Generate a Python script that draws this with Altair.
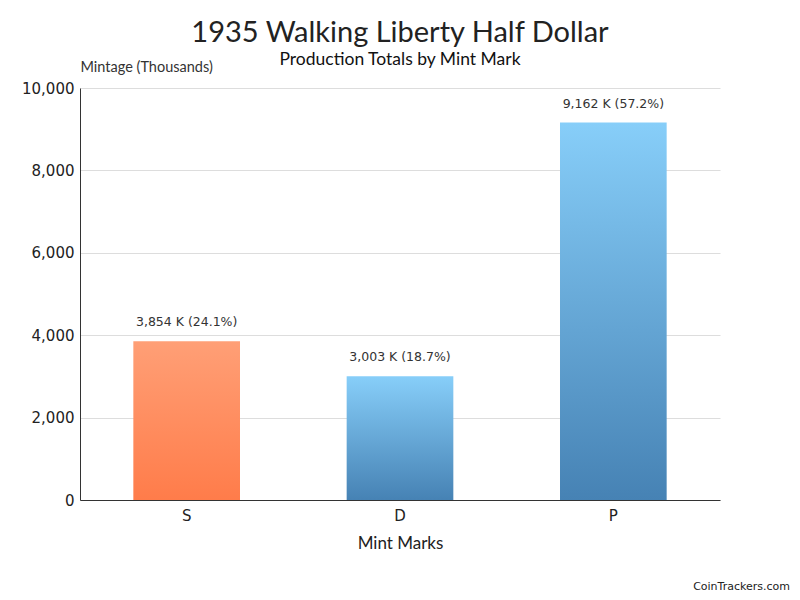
import altair as alt
import pandas as pd

mints = ["S", "D", "P"]
mintage = [3854, 3003, 9162]
labels = ["3,854 K (24.1%)", "3,003 K (18.7%)", "9,162 K (57.2%)"]
groups = ["proof", "regular", "regular"]

df = pd.DataFrame({"mint": mints, "mintage": mintage, "label": labels, "group": groups})

orange = alt.Gradient(
    gradient="linear",
    stops=[alt.GradientStop(color="#FF9F76", offset=0), alt.GradientStop(color="#FF7C4A", offset=1)],
    x1=0, x2=0, y1=0, y2=1,
)
blue = alt.Gradient(
    gradient="linear",
    stops=[alt.GradientStop(color="#87CEF9", offset=0), alt.GradientStop(color="#4682B4", offset=1)],
    x1=0, x2=0, y1=0, y2=1,
)

x = alt.X(
    "mint:N",
    sort=mints,
    title="Mint Marks",
    scale=alt.Scale(paddingInner=0.5, paddingOuter=0.25),
    axis=alt.Axis(
        labelAngle=0, labelFont="DejaVu Sans", labelFontSize=15, labelColor="#222",
        labelPadding=8, ticks=False, domainColor="#333", titleFont="Lato",
        titleFontSize=17, titleFontWeight="normal", titleColor="#222", titlePadding=12,
    ),
)
y = alt.Y(
    "mintage:Q",
    title="Mintage (Thousands)",
    scale=alt.Scale(domain=[0, 10000]),
    axis=alt.Axis(
        values=[0, 2000, 4000, 6000, 8000, 10000], format=",d", labelFont="DejaVu Sans",
        labelFontSize=15, labelColor="#222", labelPadding=6, ticks=False, domainColor="#333",
        gridColor="#dddddd", titleAngle=0, titleAlign="left", titleBaseline="bottom",
        titleX=0, titleY=-14, titleFont="Lato", titleFontSize=14.5, titleFontWeight="normal",
        titleColor="#333",
    ),
)

base = alt.Chart(df)
bars_s = base.transform_filter(alt.datum.group == "proof").mark_bar(color=orange).encode(x=x, y=y)
bars_r = base.transform_filter(alt.datum.group == "regular").mark_bar(color=blue).encode(x=x, y=y)
text = base.mark_text(dy=-12, baseline="bottom", font="DejaVu Sans", fontSize=12.5, color="#333").encode(
    x=alt.X("mint:N", sort=mints), y="mintage:Q", text="label:N"
)
footer = base.transform_filter(alt.datum.mint == "S").mark_text(
    text="CoinTrackers.com", align="right", baseline="bottom", font="DejaVu Sans", fontSize=11, color="#222"
).encode(x=alt.value(710), y=alt.value(504))

chart = (
    alt.layer(bars_s, bars_r, text, footer)
    .properties(
        width=640,
        height=412,
        autosize=alt.AutoSizeParams(type="none"),
        padding={"left": 72, "top": 80, "right": 72, "bottom": 92},
        title=alt.TitleParams(
            text="1935 Walking Liberty Half Dollar",
            subtitle="Production Totals by Mint Mark",
            font="Lato", fontSize=29, fontWeight="normal", color="#222",
            subtitleFont="Lato", subtitleFontSize=17.5, subtitleColor="#111",
            anchor="middle", frame="group", offset=-9, subtitlePadding=3,
        ),
    )
    .configure_view(stroke=None)
)

chart.save("out.html", embed_options={"renderer": "svg", "actions": False})
